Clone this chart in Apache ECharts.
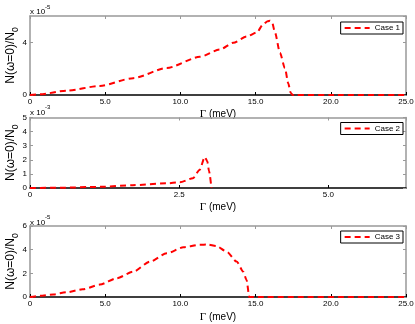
<!DOCTYPE html>
<html><head><meta charset="utf-8">
<script src="https://cdn.jsdelivr.net/npm/echarts@6/dist/echarts.min.js"></script>
<style>html,body{margin:0;padding:0;background:#fff}#c{width:415px;height:324px}</style>
</head><body><div id="c"></div>
<script>
// Case 1 (units of 1e-5)
var case1X = [0, 0.66, 2.44, 4.65, 6.86, 9.09, 11.3, 12.63, 13.52, 14.41, 15.07, 15.51, 15.8, 15.96, 16.1, 16.29, 16.62, 16.95, 17.17, 17.33, 17.46, 20, 25];
var case1Y = [0, 0.05, 0.33, 0.69, 1.28, 2.05, 2.9, 3.46, 3.97, 4.44, 4.74, 5.38, 5.6, 5.64, 5.5, 4.74, 3.2, 2.05, 0.9, 0.18, 0, 0, 0];
// Case 2 (units of 1e-3)
var case2X = [0, 0.5, 1.17, 1.72, 2.28, 2.51, 2.73, 2.84, 2.93, 2.97, 3.0, 3.04];
var case2Y = [0, 0.02, 0.08, 0.2, 0.33, 0.4, 0.69, 1.28, 2.2, 1.9, 1.2, 0];
// Case 3 (units of 1e-5)
var case3X = [0, 0.66, 1.55, 2.44, 3.5, 4.65, 5.76, 6.86, 7.98, 9.09, 10.2, 11.3, 11.8, 12.4, 13.08, 13.74, 14.18, 14.4, 14.58, 15.5, 25];
var case3Y = [0, 0.1, 0.22, 0.4, 0.65, 1.05, 1.58, 2.14, 2.99, 3.69, 4.2, 4.42, 4.43, 4.3, 3.83, 2.99, 2.14, 1.44, 0, 0, 0];

var seriesNames = ['Case 1', 'Case 2', 'Case 3'];
var exponents = ['-5', '-3', '-5'];
var xMax = [25, 6.3, 25];
var xInterval = [5, 2.5, 5];
var yMax = [6, 5, 6];
var yInterval = [4, 1, 2];
var xName = '{g|Γ} (meV)';

function pairs(xs, ys) { return xs.map(function (x, i) { return [x, ys[i]]; }); }
var datasets = [pairs(case1X, case1Y), pairs(case2X, case2Y), pairs(case3X, case3Y)];

var FONT = 'Liberation Sans';
var GRAY = '#999';
var grids = [
  {left: 30, top: 16, width: 376, height: 79, outerBoundsMode: 'none', containLabel: false},
  {left: 30, top: 117.5, width: 376, height: 70.5, outerBoundsMode: 'none', containLabel: false},
  {left: 30, top: 226, width: 376, height: 71, outerBoundsMode: 'none', containLabel: false}
];
var xNameGap = [14, 14, 15];
var legendTop = [22, 122.5, 231];
var expTop = [4, 104.5, 214.5];

var xAxes = [], yAxes = [], series = [], legends = [], graphics = [];
grids.forEach(function (g, i) {
  xAxes.push({
    type: 'value', gridIndex: i, min: 0, max: xMax[i], interval: xInterval[i],
    position: 'bottom',
    name: xName, nameLocation: 'middle', nameGap: xNameGap[i],
    nameTextStyle: {fontFamily: FONT, fontSize: 10, color: '#000',
      rich: {g: {fontFamily: 'Liberation Serif', fontSize: 11, color: '#000'}}},
    axisLine: {show: true, lineStyle: {color: '#000', width: 1.5}},
    axisTick: {show: true, inside: true, length: 3, lineStyle: {color: '#000'}},
    axisLabel: {show: true, margin: 3, fontFamily: FONT, fontSize: 8, color: '#000',
      showMaxLabel: i !== 1,
      formatter: function (v) { return v === 0 ? '0' : v.toFixed(1); }},
    splitLine: {show: false}
  });
  xAxes.push({
    type: 'value', gridIndex: i, min: 0, max: xMax[i], interval: xInterval[i],
    position: 'top',
    axisLine: {show: true, onZero: false, lineStyle: {color: GRAY, width: 1.5}},
    axisTick: {show: true, inside: true, length: 3, lineStyle: {color: GRAY}},
    axisLabel: {show: false}, splitLine: {show: false}
  });
  yAxes.push({
    type: 'value', gridIndex: i, min: 0, max: yMax[i], interval: yInterval[i],
    position: 'left',
    name: '{a|N(ω=0)/N}{s|0}', nameLocation: 'middle', nameGap: 10, nameRotate: 90,
    nameMoveOverlap: false,
    nameTextStyle: {fontFamily: FONT, color: '#000',
      rich: {a: {fontFamily: FONT, fontSize: 12, lineHeight: 15, verticalAlign: 'top', color: '#000'},
             s: {fontFamily: FONT, fontSize: 8.5, lineHeight: 15, verticalAlign: 'bottom', color: '#000'}}},
    axisLine: {show: true, onZero: false, lineStyle: {color: GRAY, width: 1.5}},
    axisTick: {show: true, inside: true, length: 3, lineStyle: {color: GRAY}},
    axisLabel: {show: true, margin: 3, fontFamily: FONT, fontSize: 8, color: '#000',
      showMaxLabel: i !== 0},
    splitLine: {show: false}
  });
  yAxes.push({
    type: 'value', gridIndex: i, min: 0, max: yMax[i], interval: yInterval[i],
    position: 'right',
    axisLine: {show: true, onZero: false, lineStyle: {color: GRAY, width: 1.5}},
    axisTick: {show: true, inside: true, length: 3, lineStyle: {color: GRAY}},
    axisLabel: {show: false}, splitLine: {show: false}
  });
  series.push({
    name: seriesNames[i], type: 'line', xAxisIndex: 2 * i, yAxisIndex: 2 * i,
    data: datasets[i], symbol: 'none', smooth: 0.25, smoothMonotone: 'x',
    lineStyle: {color: '#ff0000', width: 2, type: [6, 4]},
    itemStyle: {color: '#ff0000'},
    silent: true, animation: false, z: 3
  });
  legends.push({
    data: [seriesNames[i]], right: 12, top: legendTop[i], orient: 'vertical',
    backgroundColor: '#fff', borderColor: '#000', borderWidth: 1,
    padding: [1, 3, 1, 3], itemWidth: 25, itemHeight: 10,
    itemStyle: {opacity: 0},
    lineStyle: {color: '#ff0000', width: 2, type: [6, 4], opacity: 1},
    textStyle: {fontFamily: FONT, fontSize: 8, color: '#000', lineHeight: 10},
    selectedMode: false
  });
  graphics.push({
    type: 'text', left: 30, top: expTop[i], silent: true,
    style: {
      text: '{b|x 10}{s|' + exponents[i] + '}',
      rich: {b: {fontFamily: FONT, fontSize: 8, lineHeight: 12, verticalAlign: 'bottom', fill: '#000'},
             s: {fontFamily: FONT, fontSize: 6, lineHeight: 6, verticalAlign: 'top', fill: '#000'}}
    }
  });
});

var chart = echarts.init(document.getElementById('c'), null, {renderer: 'canvas'});
chart.setOption({
  animation: false,
  backgroundColor: '#fff',
  grid: grids,
  xAxis: xAxes,
  yAxis: yAxes,
  series: series,
  legend: legends,
  graphic: graphics
});
</script></body></html>
